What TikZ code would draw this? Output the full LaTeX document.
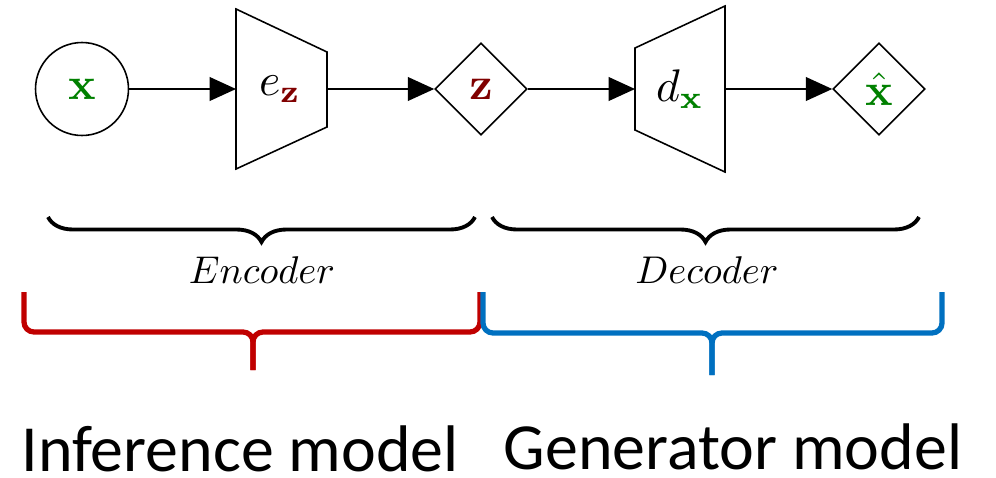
\documentclass[tikz,border=0pt]{standalone}
\usepackage[no-math]{fontspec}
\newfontfamily\calib{Carlito}
\usetikzlibrary{arrows.meta}
\usetikzlibrary{shapes.geometric}
\usetikzlibrary{decorations.pathreplacing}

\definecolor{varx}{RGB}{0,128,0}
\definecolor{varz}{RGB}{128,0,0}
\definecolor{infred}{RGB}{192,0,0}
\definecolor{genblue}{RGB}{0,112,192}

\newcommand{\varsym}[1]{\scalebox{2.6}{$#1$}}

\tikzset{
  var/.style={draw, line width=0.9pt, inner sep=0pt, minimum size=1.86cm},
  netlbl/.style={inner sep=0pt},
  net/.style={draw, line width=0.9pt},
  flow/.style={line width=0.9pt, -{Triangle[length=15pt, width=13.5pt]}},
  part/.style={decorate, decoration={brace, mirror, amplitude=0.5cm}, line width=2.2pt},
  partlbl/.style={inner sep=0pt},
  model/.style={line width=3pt, rounded corners=0.2cm},
  modellbl/.style={anchor=base, inner sep=0pt, text depth=0pt, font=\calib\fontsize{37.5}{44}\selectfont},
}

\begin{document}
\begin{tikzpicture}[x=0.02cm, y=-0.02cm]
\useasboundingbox (0,0) rectangle (996,477);
% variables and networks
\node[var, circle] (x) at (82,89) {\varsym{\color{varx}\mathbf{x}}};
\draw[net] (236,9) -- (327,52) -- (327,127) -- (236,169) -- cycle;
\coordinate (enc-in) at (236,89);
\coordinate (enc-out) at (327,89);
\node[netlbl] (enc) at (280,89) {\varsym{e_{\color{varz}\mathbf{z}}}};
\node[var, diamond, minimum size=1.84cm] (z) at (481,89) {\varsym{\color{varz}\mathbf{z}}};
\draw[net] (635,48) -- (725,6) -- (725,172) -- (635,130) -- cycle;
\coordinate (dec-in) at (635,89);
\coordinate (dec-out) at (725,89);
\node[netlbl] (dec) at (680,89) {\varsym{d_{\color{varx}\mathbf{x}}}};
\node[var, diamond, minimum size=1.84cm] (xhat) at (879,89) {\varsym{\color{varx}\hat{\mathbf{x}}}};
\draw[flow] (x) -- (enc-in);
\draw[flow] (enc-out) -- (z);
\draw[flow] (z) -- (dec-in);
\draw[flow] (dec-out) -- (xhat);
% encoder / decoder
\draw[part] (48,217) -- (475,217);
\node[partlbl] (enc-part) at (262,270) {\scalebox{2.2}{$Encoder$}};
\draw[part] (492,217) -- (919,217);
\node[partlbl] (dec-part) at (707,270) {\scalebox{2.2}{$Decoder$}};
% models
\draw[model, infred] (24,292) -- (24,332) -- (253,332) -- (253,370);
\draw[model, infred] (480,292) -- (480,332) -- (253,332) -- (253,370);
\draw[model, genblue] (483,292) -- (483,333) -- (712,333) -- (712,375);
\draw[model, genblue] (942,292) -- (942,333) -- (712,333) -- (712,375);
\node[modellbl] (inf) at (240,471) {Inference model};
\node[modellbl] (gen) at (733,469) {Generator model};
\end{tikzpicture}
\end{document}
